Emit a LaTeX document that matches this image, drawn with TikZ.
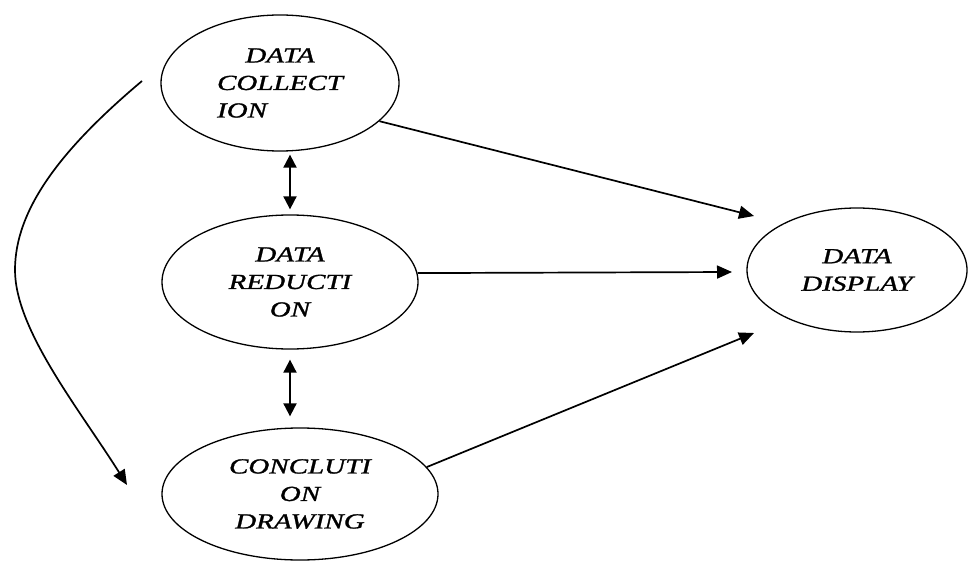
\documentclass[tikz,border=0pt]{standalone}
\usepackage{fontspec}
\setmainfont{Liberation Serif}
\newfontfamily\lblfont[FakeStretch=1.35,FakeBold=1.2]{Liberation Serif}
\usetikzlibrary{shapes.geometric,arrows.meta}
\begin{document}
\begin{tikzpicture}[x=1pt,y=-1pt,
  oval/.style={draw,ellipse,line width=1.3pt,inner sep=0pt,align=center,
    font=\lblfont\itshape\fontsize{21.5}{27.5}\selectfont},
  conn/.style={line width=1.7pt,-{Triangle[length=15pt,width=13pt]}},
  dconn/.style={line width=1.9pt,{Triangle[length=13pt,width=13pt]}-{Triangle[length=13pt,width=13pt]}}]
\path[use as bounding box,fill=white] (0,0) rectangle (968,561);
\node[oval,minimum width=238pt,minimum height=136pt] (col) at (280,83)
  {DATA\\COLLECT\\\rlap{ION}\phantom{COLLECT}};
\node[oval,minimum width=256pt,minimum height=134pt] (red) at (290,282)
  {DATA\\REDUCTI\\ON};
\node[oval,minimum width=276pt,minimum height=132pt] (conc) at (300,494)
  {CONCLUTI\\ON\\DRAWING};
\node[oval,minimum width=220pt,minimum height=124pt] (disp) at (857,270)
  {DATA\\DISPLAY};
\coordinate (t1) at (754,216);
\coordinate (t2) at (732,272);
\coordinate (t3) at (754,333);
\coordinate (cs) at (142,81);
\coordinate (ce) at (127,485);
\draw[conn] (col.-21) -- (t1);
\draw[conn] (red.4) -- (t2);
\draw[conn] (conc.12) -- (t3);
\draw[dconn,shorten <=3pt,shorten >=5pt] (col.south -| red.north) -- (red.north);
\draw[dconn,shorten <=10pt,shorten >=11pt] (red.south) -- (red.south |- conc.north);
\draw[conn] (cs) .. controls (60,150) and (15,210) .. (15,270)
  .. controls (15,330) and (80,410) .. (ce);
\end{tikzpicture}
\end{document}
